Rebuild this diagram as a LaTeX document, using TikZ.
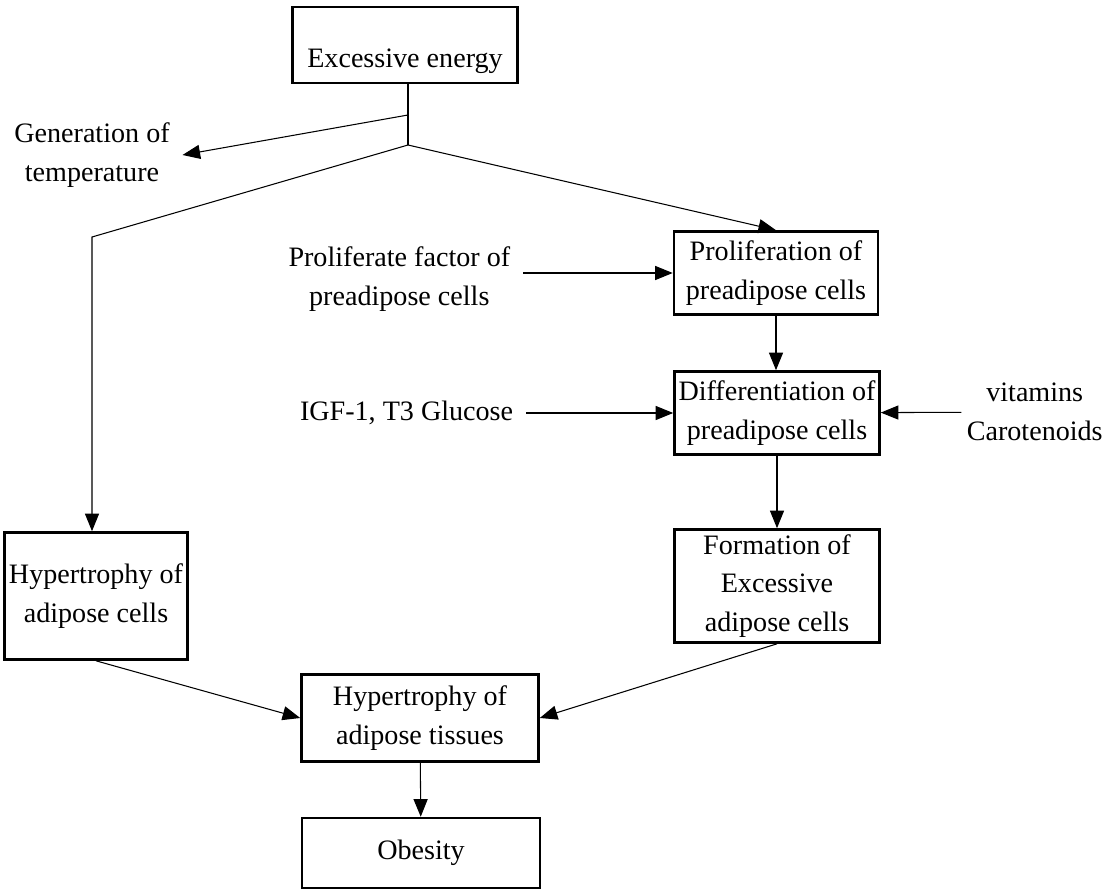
\documentclass[tikz,border=0pt]{standalone}
\usepackage{fontspec}
\setmainfont{Liberation Serif}
\usepackage{tikz}
\usetikzlibrary{
    arrows.meta,
    positioning,
    calc
}
\tikzset{
    % Base style for all texts
    plain base/.style={
        font=\fontsize{16}{22}\selectfont,
        align=center,
        text=black,
    },
    % Framed stages of the pathway
    stage/.style={
        plain base,
        rectangle,
        draw=black,
        line width=1.5pt,
        inner sep=2pt,
        minimum width=4.1cm,
        minimum height=1.66cm,
    },
    % Outside factors, no frame
    factor/.style={
        plain base,
        inner sep=0.25cm,
    },
    % Thin connector with solid head
    arrow/.style={
        -{Triangle[length=10pt, width=8pt]},
        line width=0.6pt,
        draw=black,
    },
    % Connector without head
    link/.style={
        line width=0.6pt,
        draw=black,
    },
}

\begin{document}
\begin{tikzpicture}[x=0.02cm, y=-0.02cm]
    \useasboundingbox (0,0) rectangle (1112,892);

    \node (energy) [stage, minimum width=4.5cm, minimum height=1.52cm,
        inner ysep=0.3cm, text height=0.92cm, text depth=0pt] at (405,45) {Excessive energy};
    \node (prolif) [stage, minimum width=4.08cm] at (776,273) {Proliferation of\\preadipose cells};
    \node (diff) [stage] at (777,413) {Differentiation of\\preadipose cells};
    \node (form) [stage, minimum height=2.26cm] at (777,586) {Formation of\\Excessive\\adipose cells};
    \node (cellhyp) [stage, minimum width=3.66cm, minimum height=2.54cm] at (96,596) {Hypertrophy of\\adipose cells};
    \node (tissuehyp) [stage, minimum width=4.74cm, minimum height=1.74cm] at (420,718) {Hypertrophy of\\adipose tissues};
    \node (obesity) [stage, minimum width=4.76cm, minimum height=1.4cm] at (421,853) {Obesity};

    \node (heat) [factor] at (92,155) {Generation of\\temperature};
    \node (pfactor) [factor, anchor=east] at (523,279) {Proliferate factor of\\preadipose cells};
    \node (igf) [factor, anchor=east] at (526,413) {IGF-1, T3 Glucose};
    \node (vitamins) [factor, inner xsep=0.1cm, anchor=east] at (1108,412) {vitamins\\Carotenoids};

    \coordinate (heatfork) at (408,115);
    \coordinate (split) at (408,145);
    \coordinate (bend) at (92,237);

    \draw [link] (energy.south -| split) -- (split);
    \draw [arrow] (heatfork) -- (heat.east);
    \draw [arrow] (split) -- (prolif.north);
    \draw [arrow] (split) -- (bend) -- (bend |- cellhyp.north);
    \draw [arrow] (pfactor.east |- prolif.west) -- (prolif.west);
    \draw [arrow] (prolif.south) -- (prolif.south |- diff.north);
    \draw [arrow] (igf) -- (diff);
    \draw [arrow] (vitamins) -- (diff);
    \draw [arrow] (diff) -- (form);
    \draw [arrow] (cellhyp.south) -- (tissuehyp.west);
    \draw [arrow] (form.south) -- (tissuehyp.east);
    \draw [arrow] (tissuehyp) -- (obesity);
\end{tikzpicture}
\end{document}
